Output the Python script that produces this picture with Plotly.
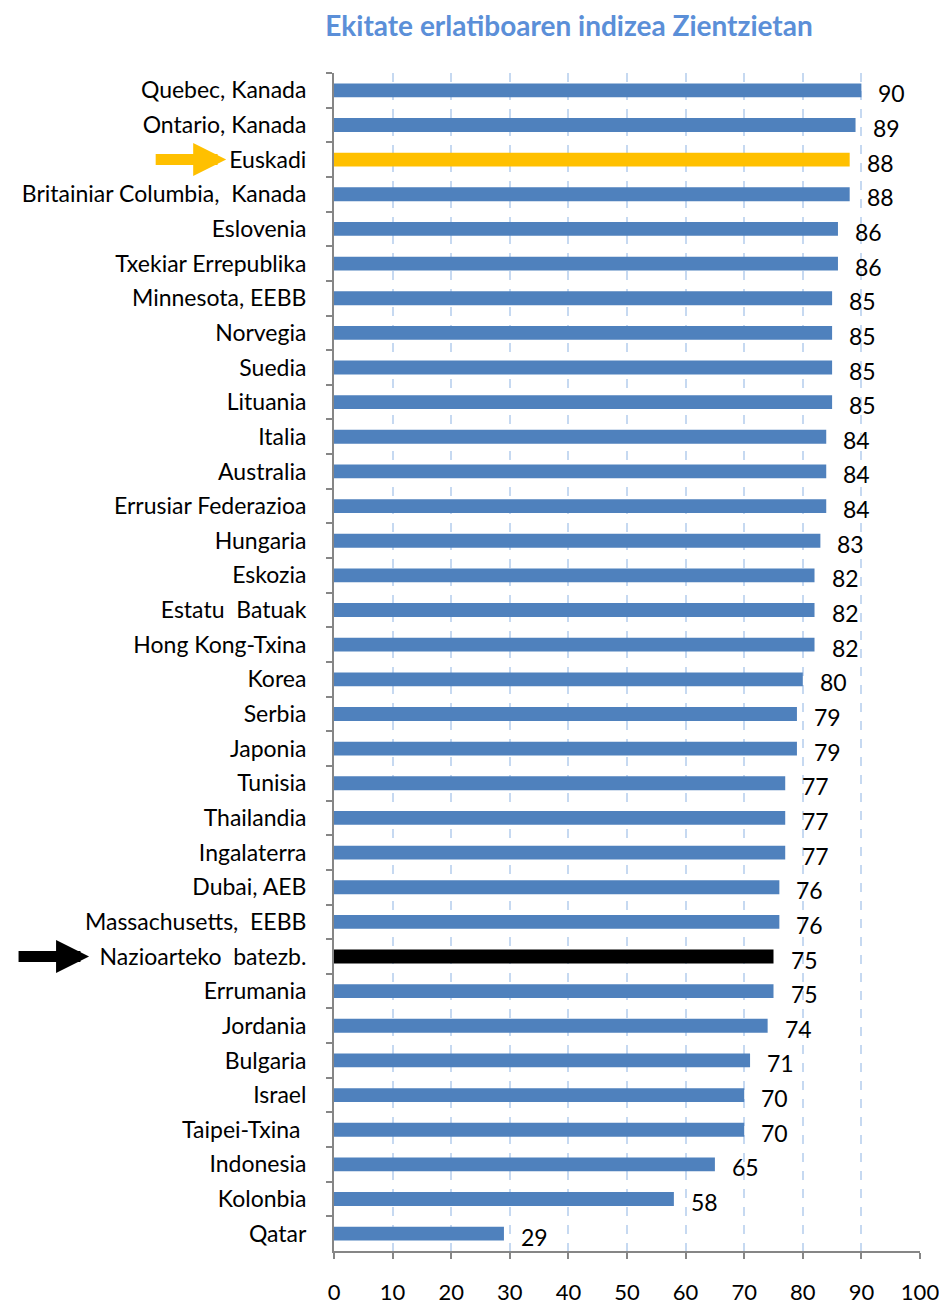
import plotly.graph_objects as go

categories = [
    "Quebec, Kanada", "Ontario, Kanada", "Euskadi", "Britainiar Columbia,  Kanada",
    "Eslovenia", "Txekiar Errepublika", "Minnesota, EEBB", "Norvegia", "Suedia",
    "Lituania", "Italia", "Australia", "Errusiar Federazioa", "Hungaria", "Eskozia",
    "Estatu  Batuak", "Hong Kong-Txina", "Korea", "Serbia", "Japonia", "Tunisia",
    "Thailandia", "Ingalaterra", "Dubai, AEB", "Massachusetts,  EEBB",
    "Nazioarteko  batezb.", "Errumania", "Jordania", "Bulgaria", "Israel",
    "Taipei-Txina ", "Indonesia", "Kolonbia", "Qatar",
]
values = [90, 89, 88, 88, 86, 86, 85, 85, 85, 85, 84, 84, 84, 83, 82, 82, 82, 80,
          79, 79, 77, 77, 77, 76, 76, 75, 75, 74, 71, 70, 70, 65, 58, 29]
labels = [str(v) for v in values]
x_ticks = [0, 10, 20, 30, 40, 50, 60, 70, 80, 90, 100]

BLUE = "#4F81BD"
colors = []
for c in categories:
    if c == "Euskadi":
        colors.append("#FFC000")
    elif c.startswith("Nazioarteko"):
        colors.append("#000000")
    else:
        colors.append(BLUE)

FONT = "Lato, 'Open Sans', sans-serif"

# page has an 8px body margin; size the figure to fit the 947x1304 window
W, H = 939, 1296

fig = go.Figure()
fig.add_trace(go.Bar(
    x=values, y=categories, orientation="h", width=0.4,
    marker=dict(color=colors, line=dict(width=0)),
    hoverinfo="skip",
))

# value labels, placed from the data
for cat, v, lab in zip(categories, values, labels):
    fig.add_annotation(
        x=v, y=cat, xref="x", yref="y", text=lab, showarrow=False,
        xanchor="left", yanchor="middle", xshift=15, yshift=-3,
        font=dict(family=FONT, size=23, color="#000000"),
    )

arrow_specs = [("Euskadi", "#FFC000", -0.184), ("Nazioarteko  batezb.", "#000000", -0.418)]
for cat, col, xpos in arrow_specs:
    fig.add_annotation(
        x=xpos, y=cat, xref="paper", yref="y",
        ax=-72, ay=0, axref="pixel", ayref="pixel",
        showarrow=True, arrowhead=2, arrowsize=0.6, arrowwidth=11,
        arrowcolor=col, text="",
    )

fig.update_layout(
    width=W, height=H,
    margin=dict(l=326, r=27, t=65, b=53, autoexpand=False),
    paper_bgcolor="white", plot_bgcolor="white",
    showlegend=False,
    title=dict(
        text="<b>Ekitate erlatiboaren indizea Zientzietan</b>",
        x=561 / W, xref="container", xanchor="center",
        y=1 - 18 / H, yref="container", yanchor="middle",
        font=dict(family=FONT, size=28, color="#5B8FD8"),
    ),
)
fig.update_xaxes(
    range=[0, 100], tickvals=x_ticks, ticktext=[str(t) for t in x_ticks],
    showgrid=True, gridcolor="#C6D9F1", griddash="dash", gridwidth=1.5,
    showline=True, linecolor="#868686", linewidth=2,
    ticks="outside", ticklen=6, tickcolor="#868686", tickwidth=2,
    ticklabelstandoff=15,
    tickfont=dict(family=FONT, size=22, color="#000000"),
    zeroline=False, fixedrange=True,
)
fig.update_yaxes(
    categoryorder="array", categoryarray=categories,
    range=[len(categories) - 0.5, -0.5],
    showline=True, linecolor="#868686", linewidth=2,
    ticks="outside", ticklen=6, tickcolor="#868686", tickwidth=2,
    tickson="boundaries", ticklabelstandoff=21,
    tickfont=dict(family=FONT, size=23, color="#000000"),
    showgrid=False, fixedrange=True,
)

fig.write_html("out.html")
